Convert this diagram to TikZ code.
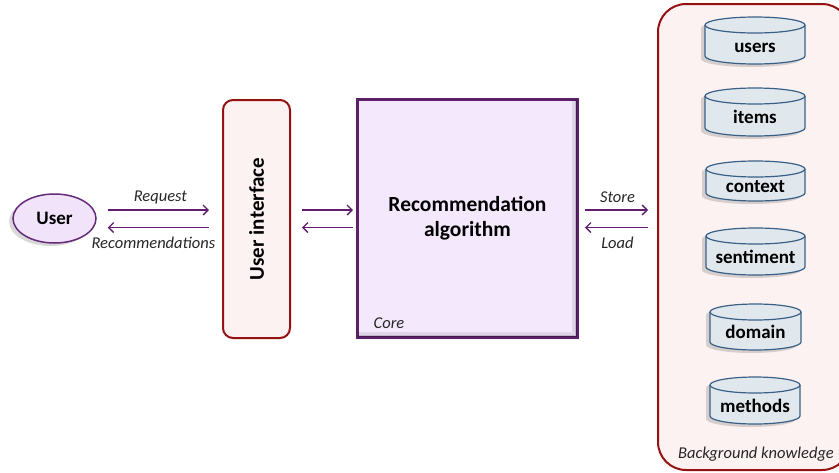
\documentclass[tikz,border=0pt]{standalone}
\usepackage{fontspec}
\usepackage{graphicx}
\setmainfont{Carlito}
\usetikzlibrary{arrows.meta,shadows,calc,shapes.geometric}

\definecolor{flowpurple}{RGB}{96,30,110}
\definecolor{userfill}{RGB}{241,228,250}
\definecolor{userline}{RGB}{100,42,122}
\definecolor{corefill}{RGB}{244,232,252}
\definecolor{coreline}{RGB}{92,32,104}
\definecolor{kbfill}{RGB}{253,242,242}
\definecolor{kbline}{RGB}{150,18,18}
\definecolor{dbfill}{RGB}{224,232,238}
\definecolor{dbline}{RGB}{58,96,134}

\tikzset{
  flow/.style={draw=flowpurple, line width=1.3pt,
    -{Straight Barb[length=5pt,width=10pt]}},
  flowlabel/.style={font=\fontsize{16.5}{18}\selectfont\itshape, text=black!85, inner sep=0pt},
  boldtext/.style={font=\fontsize{#1}{#1}\selectfont\bfseries, text=black},
  softshadow/.style={drop shadow={shadow xshift=-4pt, shadow yshift=-3pt,
    opacity=0.22, fill=black!70}},
  userbox/.style={ellipse, draw=userline, fill=userfill, line width=1.5pt,
    minimum width=83pt, minimum height=49pt, inner sep=0pt, softshadow},
  framebox/.style={draw=kbline, fill=kbfill, line width=2pt, inner sep=0pt},
  corebox/.style={draw=coreline, fill=corefill, line width=2pt, inner sep=0pt,
    minimum width=219pt, minimum height=237pt},
  dbshape/.style={fill=dbfill, softshadow},
  dbedge/.style={draw=dbline, line width=1.2pt},
}

% database cylinder: name, centre x, top y, bottom y, width, label (y measured downwards)
\newcommand\dbcyl[6]{%
  \pgfmathsetmacro\cylL{#2-#5/2}%
  \pgfmathsetmacro\cylR{#2+#5/2}%
  \pgfmathsetmacro\cylT{-#3-8}%
  \pgfmathsetmacro\cylB{-#4+8}%
  \pgfmathsetmacro\cylRx{#5/2}%
  \path[dbshape] (\cylL,\cylT) -- (\cylL,\cylB)
    arc[start angle=180, end angle=360, x radius=\cylRx, y radius=8]
    -- (\cylR,\cylT)
    arc[start angle=0, end angle=180, x radius=\cylRx, y radius=8] -- cycle;
  \draw[dbedge] (\cylL,\cylT) -- (\cylL,\cylB)
    arc[start angle=180, end angle=360, x radius=\cylRx, y radius=8]
    -- (\cylR,\cylT);
  \draw[dbedge] (#2,\cylT) ellipse[x radius=\cylRx, y radius=8];
  \node[boldtext=19, anchor=base, inner sep=0pt] (#1) at (#2,{-(#3+#4)/2-11.5}) {#6};
}

\begin{document}
\begin{tikzpicture}[x=1pt,y=1pt]
\useasboundingbox (0,0) rectangle (839,-472);

% user
\node[userbox] (user) at (54.5,-218.5) {};
\node[boldtext=19] (usertext) at (user.center) {User};

% user interface
\node[framebox, rounded corners=10pt, minimum width=67pt, minimum height=238pt]
  (ui) at (256.5,-219) {};
\node[boldtext=21] (uitext) at (ui.center) {\rotatebox{90}{User interface}};

% core
\node[corebox] (core) at (467.5,-218.5) {};
\begin{scope}
  \clip (core.south west) rectangle (core.north east);
  \draw[black, opacity=0.08, line width=6pt]
    ([xshift=-3pt]core.north east) -- ([xshift=-3pt,yshift=3pt]core.south east)
    -- ([yshift=3pt]core.south west);
  \draw[black, opacity=0.14, line width=3pt]
    ([xshift=-1.5pt]core.north east) -- ([xshift=-1.5pt,yshift=1.5pt]core.south east)
    -- ([yshift=1.5pt]core.south west);
\end{scope}
\draw[coreline, line width=2pt] (core.south west) rectangle (core.north east);
\node[boldtext=21.5, align=center, font=\fontsize{21.5}{25}\selectfont\bfseries]
  (algo) at (core.center) {Recommendation\\algorithm};
\node[flowlabel] (corelabel) at (389,-323) {Core};

% background knowledge
\node[framebox, rounded corners=28pt, minimum width=192pt, minimum height=466pt]
  (bg) at (754,-237) {};
\node[flowlabel] (bglabel) at (756,-454) {Background knowledge};

\dbcyl{users}{755}{17}{64}{100}{users}
\dbcyl{items}{755}{88}{136}{100}{items}
\dbcyl{context}{755.5}{161}{201}{99}{context}
\dbcyl{sentiment}{755.5}{228}{275}{99}{sentiment}
\dbcyl{domain}{755.5}{304}{350}{91}{domain}
\dbcyl{methods}{755}{377}{424}{90}{methods}

% user <-> interface
\draw[flow, shorten <=11pt, shorten >=13pt]
  ([yshift=8.5pt]user.east) -- ([yshift=8.5pt]user.east -| ui.west)
  node[flowlabel, midway, above=5.5pt, xshift=1pt] (req) {Request};
\draw[flow, shorten <=13pt, shorten >=11pt]
  ([yshift=-9pt]user.east -| ui.west) -- ([yshift=-9pt]user.east)
  node[flowlabel, midway, below=9pt, xshift=-6pt] (recs) {Recommendations};

% interface <-> core
\draw[flow, shorten <=11pt, shorten >=4pt]
  ([yshift=8.5pt]user.east -| ui.east) -- ([yshift=8.5pt]user.east -| core.west);
\draw[flow, shorten <=4pt, shorten >=11pt]
  ([yshift=-9pt]user.east -| core.west) -- ([yshift=-9pt]user.east -| ui.east);

% core <-> background knowledge
\draw[flow, shorten <=7pt, shorten >=9pt]
  ([yshift=8.5pt]user.east -| core.east) -- ([yshift=8.5pt]user.east -| bg.west)
  node[flowlabel, midway, above=6.5pt] (store) {Store};
\draw[flow, shorten <=9pt, shorten >=7pt]
  ([yshift=-9pt]user.east -| bg.west) -- ([yshift=-9pt]user.east -| core.east)
  node[flowlabel, midway, below=8.5pt] (load) {Load};
\end{tikzpicture}
\end{document}
